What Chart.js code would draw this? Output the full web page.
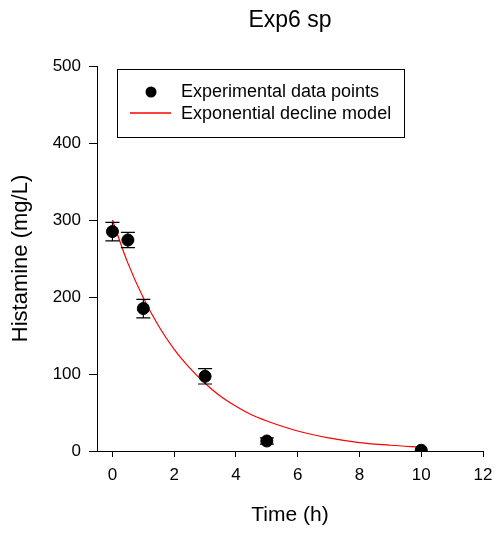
<!DOCTYPE html>
<html>
<head>
<meta charset="utf-8">
<script src="https://cdn.jsdelivr.net/npm/chart.js@4"></script>
<style>
  html, body { margin: 0; padding: 0; background: #fff; }
  #wrap { width: 495px; height: 533px; }
</style>
</head>
<body>
<div id="wrap"><canvas id="grafico" width="495" height="533"></canvas></div>
<script>
// Dados experimentais
const tempos = [0, 0.5, 1, 3, 5, 10];
const histamina = [285, 274, 185, 97, 13, 1];
const erros = [12, 10, 12, 10, 4, 0];

// Curva do modelo
const tempoModelo = [0, 0.5, 1, 1.5, 2, 2.5, 3, 3.5, 4, 4.5, 5, 6, 7, 8, 9, 10];
const valorModelo = [300, 244, 199, 162, 132, 108, 88, 71, 58, 47, 39, 26, 17, 11, 7.5, 5];

const xTicks = [0, 2, 4, 6, 8, 10, 12];
const yTicks = [0, 100, 200, 300, 400, 500];

const fonte = "'Liberation Sans', Arial, sans-serif";

// Barras de erro + título + legenda desenhados à mão
const extras = {
    id: 'extras',
    afterDatasetsDraw(chart) {
        const ctx = chart.ctx;
        const x = chart.scales.x, y = chart.scales.y;
        ctx.save();
        ctx.strokeStyle = '#000';
        ctx.lineWidth = 1.2;
        tempos.forEach((t, i) => {
            if (!erros[i]) return;
            const px = x.getPixelForValue(t);
            const top = y.getPixelForValue(histamina[i] + erros[i]);
            const bot = y.getPixelForValue(histamina[i] - erros[i]);
            ctx.beginPath();
            ctx.moveTo(px, top); ctx.lineTo(px, bot);
            ctx.moveTo(px - 7, top); ctx.lineTo(px + 7, top);
            ctx.moveTo(px - 7, bot); ctx.lineTo(px + 7, bot);
            ctx.stroke();
        });
        ctx.restore();
    },
    afterDraw(chart) {
        const ctx = chart.ctx;
        const area = chart.chartArea;
        ctx.save();
        // título
        ctx.fillStyle = '#000';
        ctx.font = '23px ' + fonte;
        ctx.textAlign = 'center';
        ctx.textBaseline = 'middle';
        ctx.fillText('Exp6 sp', (area.left + area.right) / 2, 21);

        // legenda
        ctx.strokeStyle = '#000';
        ctx.lineWidth = 1;
        ctx.strokeRect(117.5, 69.5, 287, 68);
        ctx.fillStyle = '#000';
        ctx.beginPath();
        ctx.arc(151, 92, 5.5, 0, Math.PI * 2);
        ctx.fill();
        ctx.strokeStyle = '#ff0000';
        ctx.lineWidth = 1.5;
        ctx.beginPath();
        ctx.moveTo(130, 113); ctx.lineTo(171, 113);
        ctx.stroke();
        ctx.fillStyle = '#000';
        ctx.font = '18px ' + fonte;
        ctx.textAlign = 'left';
        ctx.fillText(chart.data.datasets[1].label, 181, 92);
        ctx.fillText(chart.data.datasets[0].label, 181, 114);
        ctx.restore();
    }
};

const ctxGrafico = document.getElementById('grafico').getContext('2d');
new Chart(ctxGrafico, {
    type: 'scatter',
    data: {
        datasets: [{
            label: 'Exponential decline model',
            data: tempoModelo.map((t, i) => ({ x: t, y: valorModelo[i] })),
            showLine: true,
            borderColor: '#ff0000',
            borderWidth: 1.2,
            pointRadius: 0,
            cubicInterpolationMode: 'monotone',
            order: 2
        }, {
            label: 'Experimental data points',
            data: tempos.map((t, i) => ({ x: t, y: histamina[i] })),
            backgroundColor: '#000',
            borderColor: '#000',
            pointRadius: 6,
            order: 1
        }]
    },
    options: {
        responsive: false,
        animation: false,
        layout: { padding: { top: 66, right: 12, left: 0, bottom: 0 } },
        plugins: {
            legend: { display: false },
            tooltip: { enabled: false }
        },
        scales: {
            x: {
                type: 'linear',
                min: -0.5,
                max: 12,
                afterBuildTicks: (s) => { s.ticks = xTicks.map(v => ({ value: v })); },
                afterFit: (s) => { s.height = 82; s.paddingLeft = 0; s.paddingRight = 0; },
                grid: { drawOnChartArea: false, tickLength: 6, color: '#000' },
                border: { color: '#000', width: 1 },
                ticks: { color: '#000', font: { family: fonte, size: 17 }, padding: 8 },
                title: {
                    display: true, text: 'Time (h)', color: '#000',
                    font: { family: fonte, size: 21 }, padding: { top: 0, bottom: 5 }
                }
            },
            y: {
                min: 0,
                max: 500,
                afterBuildTicks: (s) => { s.ticks = yTicks.map(v => ({ value: v })); },
                afterFit: (s) => { s.width = 97; s.paddingTop = 0; s.paddingBottom = 0; },
                grid: { drawOnChartArea: false, tickLength: 8, color: '#000' },
                border: { color: '#000', width: 1 },
                ticks: { color: '#000', font: { family: fonte, size: 17 }, padding: 8 },
                title: {
                    display: true, text: 'Histamine (mg/L)', color: '#000',
                    font: { family: fonte, size: 22 }, padding: { top: 8, bottom: 0 }
                }
            }
        }
    },
    plugins: [extras]
});
</script>
</body>
</html>
